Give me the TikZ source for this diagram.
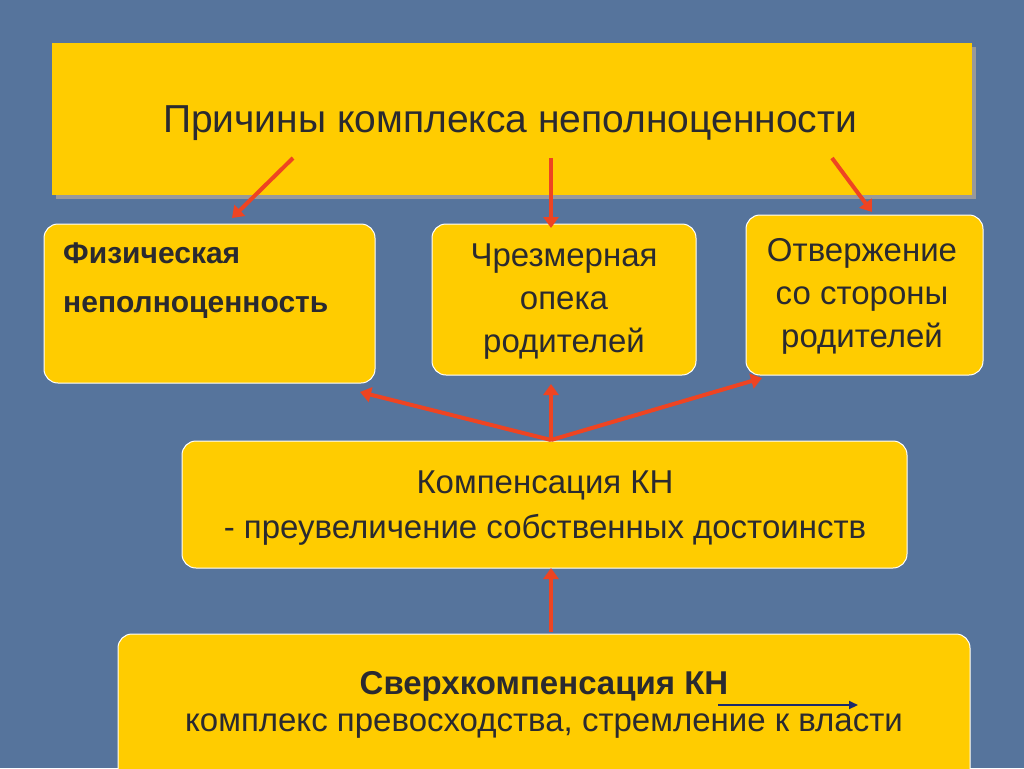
\documentclass[tikz,border=0pt]{standalone}
\usepackage{fontspec}
\setmainfont{Liberation Sans}
\usetikzlibrary{arrows.meta}
\definecolor{bg}{HTML}{56749C}
\definecolor{yel}{HTML}{FFCC00}
\definecolor{txt}{HTML}{2A2A30}
\definecolor{arr}{HTML}{EE4422}
\definecolor{navy}{HTML}{1A2A6C}
\begin{document}
\begin{tikzpicture}[x=1pt,y=-1pt,
  box/.style={fill=yel,draw=white,line width=1pt,rounded corners=14pt},
  ar/.style={draw=arr,line width=4pt,-{Triangle[length=11pt,width=15pt]}},
  t/.style={text=txt,align=center,inner sep=0pt}]
\fill[bg] (0,0) rectangle (1024,768);
\useasboundingbox (0,0) rectangle (1024,768);
\fill[black!40] (56,47) rectangle (976,199);
\fill[yel] (52,43) rectangle (972,195);
\node[t,font=\fontsize{39}{44}\selectfont] (title) at (510,123) {Причины комплекса неполноценности};
\draw[box] (44,224) rectangle (375,383);
\node[t,align=left,anchor=north west,font=\bfseries\fontsize{30}{49}\selectfont] (b1) at (63,243) {Физическая\\неполноценность};
\draw[box] (432,224) rectangle (696,375);
\node[t,font=\fontsize{33}{43}\selectfont] (b2) at (564,302) {Чрезмерная\\опека\\родителей};
\draw[box] (746,215) rectangle (983,375);
\node[t,font=\fontsize{33}{43}\selectfont] (b3) at (862,296) {Отвержение\\ со стороны\\родителей};
\draw[box] (182,441) rectangle (907,568);
\node[t,font=\fontsize{33}{45}\selectfont] (b4) at (545,508) {Компенсация КН\\- преувеличение собственных достоинств};
\draw[box] (118,634) rectangle (970,790);
\node[t,font=\fontsize{33}{37}\selectfont] (b5) at (544,705) {\textbf{Сверхкомпенсация КН}\\комплекс превосходства, стремление к власти};
\coordinate (t1) at (293,158); \coordinate (h1) at (232,218);
\coordinate (t2) at (551,158); \coordinate (h2) at (551,228);
\coordinate (t3) at (832,158); \coordinate (h3) at (872,212);
\coordinate (c) at (551,440);
\coordinate (h4) at (360,392); \coordinate (h5) at (551,384); \coordinate (h6) at (762,378);
\coordinate (s) at (551,632); \coordinate (h7) at (551,568);
\coordinate (n1) at (718,705); \coordinate (n2) at (858,705);
\draw[ar] (t1) -- (h1);
\draw[ar] (t2) -- (h2);
\draw[ar] (t3) -- (h3);
\draw[ar] (c) -- (h4);
\draw[ar] (c) -- (h5);
\draw[ar] (c) -- (h6);
\draw[ar] (s) -- (h7);
\draw[navy,line width=2pt,-{Triangle[length=9pt,width=8pt]}] (n1) -- (n2);
\end{tikzpicture}
\end{document}
